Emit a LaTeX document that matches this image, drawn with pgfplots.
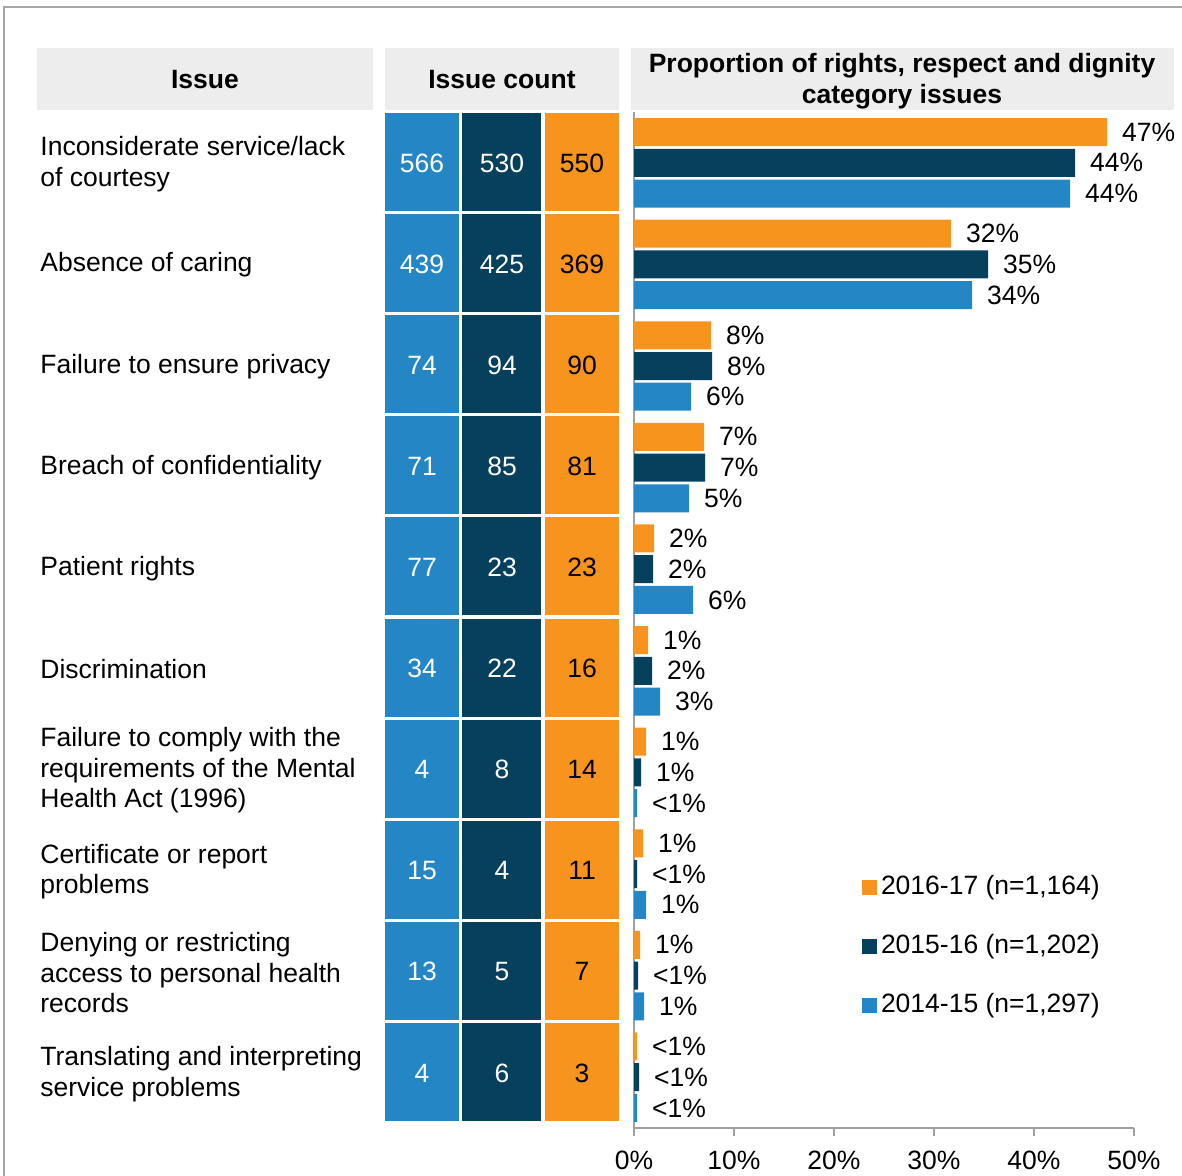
\documentclass[border=0pt]{standalone}
\usepackage{fontspec}
\setmainfont{Liberation Sans}
\usepackage{pgfplots}
\pgfplotsset{compat=1.18}
\definecolor{cOrange}{RGB}{247,148,29}
\definecolor{cNavy}{RGB}{6,64,92}
\definecolor{cBlue}{RGB}{37,134,197}
\definecolor{cHead}{RGB}{237,237,237}
\definecolor{cFrame}{RGB}{166,166,166}
\definecolor{cAxis}{RGB}{160,160,160}
\newcommand{\tf}{\fontsize{13.25}{15.25}\selectfont}
\pgfplotsset{
  mybar/.style={xbar, bar width=14pt, bar shift=0pt, /pgf/bar shift=0pt, draw=none, fill=#1,
    legend image code/.code={\fill[#1] (0pt,-3.75pt) rectangle (7.5pt,3.75pt);}},
}
\begin{document}
\tf
\begin{tikzpicture}[font=\tf]
\path[use as bounding box] (0pt,0pt) rectangle (591pt,-588pt);
\begin{scope}[x=0.5pt,y=-0.5pt]
\draw[cFrame, line width=1pt] (4,1190) -- (4,7) -- (1190,7);
% headers
\fill[cHead] (37,48) rectangle (373,110);
\fill[cHead] (385,48) rectangle (619,110);
\fill[cHead] (631,48) rectangle (1174,110);
\node[font=\tf\bfseries] at (205,80) {Issue};
\node[font=\tf\bfseries] at (502,80) {Issue count};
\node[font=\fontsize{13.25}{15.5}\selectfont\bfseries, align=center] at (902,81.5) {Proportion of rights, respect and dignity\\category issues};
% count cells
\foreach \k/\a/\b/\c in {1/566/530/550, 2/439/425/369, 3/74/94/90, 4/71/85/81, 5/77/23/23, 6/34/22/16, 7/4/8/14, 8/15/4/11, 9/13/5/7, 10/4/6/3}{
  \fill[cBlue] (385,{113+101.1*(\k-1)}) rectangle (459,{211+101.1*(\k-1)});
  \fill[cNavy] (462,{113+101.1*(\k-1)}) rectangle (541,{211+101.1*(\k-1)});
  \fill[cOrange] (545,{113+101.1*(\k-1)}) rectangle (619,{211+101.1*(\k-1)});
  \node[text=white] at (422,{163+101.1*(\k-1)}) {\a};
  \node[text=white] at (502,{163+101.1*(\k-1)}) {\b};
  \node[text=black] at (582,{163+101.1*(\k-1)}) {\c};
}
% issue labels
\foreach \k/\t in {1/{Inconsiderate service/lack\\of courtesy}, 2/{Absence of caring}, 3/{Failure to ensure privacy}, 4/{Breach of confidentiality}, 5/{Patient rights}, 6/{Discrimination}, 7/{Failure to comply with the\\requirements of the Mental\\Health Act (1996)}, 8/{Certificate or report\\problems}, 9/{Denying or restricting\\access to personal health\\records}, 10/{Translating and interpreting\\service problems}}{
  \node[anchor=west, inner sep=0pt, align=left] at (40,{164+101.1*(\k-1)}) {\t};
}
\end{scope}
\begin{axis}[
  at={(317pt,-564pt)}, anchor=south west,
  scale only axis, width=250pt, height=508pt,
  xmin=0, xmax=50, ymin=-10.5, ymax=-0.5,
  axis x line*=bottom, axis y line*=left,
  axis line style={cAxis, line width=0.8pt},
  ytick=\empty,
  xtick={0,10,20,30,40,50},
  tick align=outside, major tick length=4pt,
  tick style={cAxis, line width=0.8pt},
  xticklabel={\pgfmathprintnumber{\tick}\%},
  /pgf/number format/assume math mode=true,
  x tick label style={font=\tf, yshift=-3pt},
  clip=false,
  point meta=explicit symbolic,
  nodes near coords={\pgfplotspointmeta\%},
  nodes near coords align={horizontal},
  every node near coord/.append style={anchor=west, xshift=3pt, font=\tf, text=black},
  legend style={at={(rel axis cs:0.456,0.2496)}, anchor=north west, draw=none, fill=none,
    inner sep=0pt, outer sep=0pt, row sep=16.2pt, font=\tf,
    nodes={inner sep=0pt, inner xsep=2pt, text height=10pt, text depth=3.3pt}},
  legend cell align=left,
]
\addplot[mybar=cOrange] table[x=x, y=y, meta=lab] {
x y lab
47.3 -0.6974 47
31.7 -1.6974 32
7.7 -2.6974 8
7.0 -3.6974 7
2.0 -4.6974 2
1.4 -5.6974 1
1.2 -6.6974 1
0.9 -7.6974 1
0.6 -8.6974 1
0.3 -9.6974 <1
};
\addlegendentry{2016-17 (n=1,164)}
\addplot[mybar=cNavy] table[x=x, y=y, meta=lab] {
x y lab
44.1 -1 44
35.4 -2 35
7.8 -3 8
7.1 -4 7
1.9 -5 2
1.8 -6 2
0.7 -7 1
0.3 -8 <1
0.4 -9 <1
0.5 -10 <1
};
\addlegendentry{2015-16 (n=1,202)}
\addplot[mybar=cBlue] table[x=x, y=y, meta=lab] {
x y lab
43.6 -1.3026 44
33.8 -2.3026 34
5.7 -3.3026 6
5.5 -4.3026 5
5.9 -5.3026 6
2.6 -6.3026 3
0.3 -7.3026 <1
1.2 -8.3026 1
1.0 -9.3026 1
0.3 -10.3026 <1
};
\addlegendentry{2014-15 (n=1,297)}
\end{axis}
\end{tikzpicture}
\end{document}
